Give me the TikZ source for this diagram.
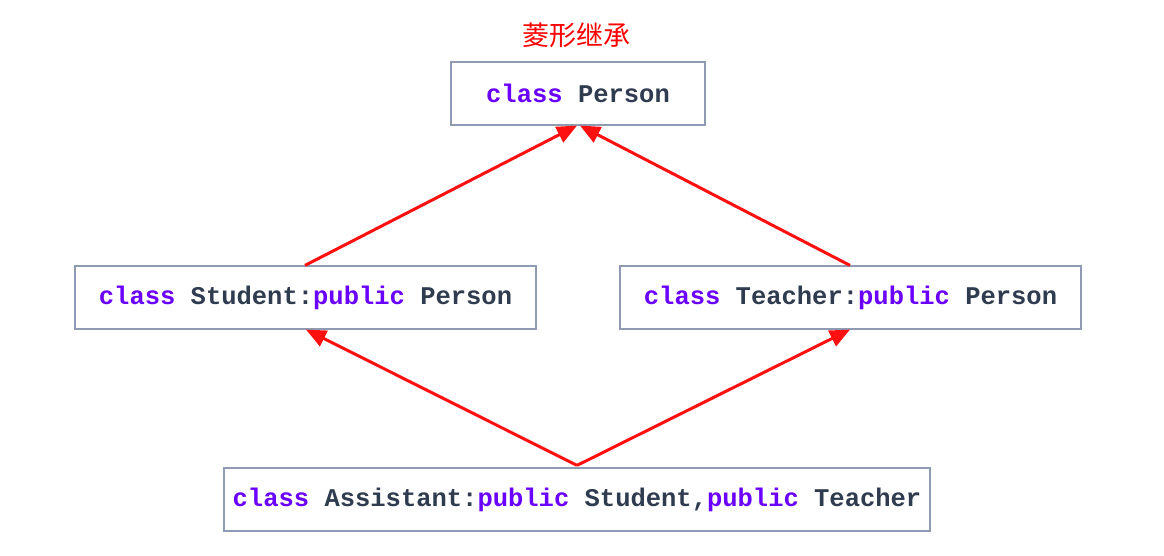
\documentclass[tikz,border=0pt]{standalone}
\usepackage{fontspec}
\setmonofont{Liberation Mono}
\newfontfamily\cjk{Noto Sans CJK SC}
\usetikzlibrary{arrows.meta}
\definecolor{boxline}{HTML}{8F9BB3}
\definecolor{codetext}{HTML}{2F3C50}
\definecolor{kw}{HTML}{6A00FF}
\definecolor{arrowred}{HTML}{FF1010}
\newcommand{\kwd}[1]{\textcolor{kw}{#1}}
\begin{document}
\begin{tikzpicture}[x=1pt,y=-1pt,
  classbox/.style={draw=boxline,line width=1.2pt,fill=white,inner sep=0pt,
    minimum height=63pt,font=\ttfamily\bfseries\fontsize{25.5}{28}\selectfont,text=codetext},
  inherit/.style={draw=arrowred,line width=3pt,-{Triangle[length=20pt,width=17pt]}}]
\useasboundingbox (0,0) rectangle (1164,556);
\node[text=red,font=\cjk\fontsize{27}{30}\selectfont] (title) at (576,35) {菱形继承};
\node[classbox,minimum width=254pt] (person) at (578,93.5) {\kwd{class} Person};
\node[classbox,minimum width=461pt] (student) at (305.5,297.5) {\kwd{class} Student:\kwd{public} Person};
\node[classbox,minimum width=461pt] (teacher) at (850.5,297.5) {\kwd{class} Teacher:\kwd{public} Person};
\node[classbox,minimum width=706pt] (assistant) at (577,499.5) {\kwd{class} Assistant:\kwd{public} Student,\kwd{public} Teacher};
\draw[inherit] ([xshift=-0.5pt]student.north) -- ([xshift=-1pt]person.south);
\draw[inherit] ([xshift=-0.5pt]teacher.north) -- ([xshift=2pt]person.south);
\draw[inherit] ([yshift=2pt]assistant.north) -- ([xshift=0.5pt]student.south);
\draw[inherit] ([yshift=2pt]assistant.north) -- ([xshift=-0.5pt]teacher.south);
\end{tikzpicture}
\end{document}
